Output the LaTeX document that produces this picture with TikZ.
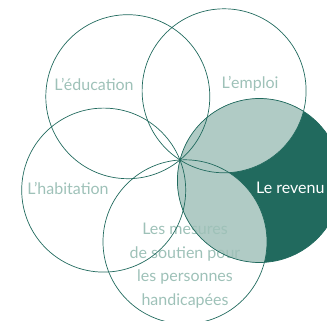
\documentclass[tikz,border=0pt]{standalone}
\usepackage{fontspec}
\setmainfont{Lato}
\definecolor{dkgreen}{RGB}{33,106,94}
\definecolor{ltgreen}{RGB}{176,203,197}
\definecolor{txtgreen}{RGB}{158,193,184}
\begin{document}
\begin{tikzpicture}[x=1pt,y=-1pt,
  ring/.style={circle,draw=dkgreen,line width=0.7pt,minimum size=164pt,inner sep=0pt},
  lbl/.style={text=txtgreen,font=\fontsize{16}{23.6}\selectfont,inner sep=0pt,align=center},
  wlbl/.style={text=white,font=\fontsize{16}{23.6}\selectfont,inner sep=0pt,anchor=west}]
\useasboundingbox (0,0) rectangle (327,321);
\clip (0,0) rectangle (327,321);
\coordinate (cEmp) at (224.1,90.8);
\coordinate (cEdu) at (127.8,96.7);
\coordinate (cHab) at (103.7,190.1);
\coordinate (cMes) at (185.0,241.8);
\coordinate (cRev) at (259.4,180.5);
% fills
\fill[dkgreen] (cRev) circle (82pt);
\begin{scope}
  \clip (cRev) circle (82pt);
  \fill[ltgreen] (cEmp) circle (82pt);
  \fill[ltgreen] (cMes) circle (82pt);
\end{scope}
% labels
\node[lbl] (tEdu) at (94,84) {L’éducation};
\node[lbl] (tEmp) at (250,84) {L’emploi};
\node[lbl] (tHab) at (68,188) {L’habitation};
\node[wlbl] (tRev) at (256,188) {Le revenu};
\node[lbl] (tMes) at (185,265.5) {Les mesures\\de soutien pour\\les personnes\\handicapées};
% circles
\node[ring] (emp) at (cEmp) {};
\node[ring] (edu) at (cEdu) {};
\node[ring] (hab) at (cHab) {};
\node[ring] (mes) at (cMes) {};
\node[ring] (rev) at (cRev) {};
\end{tikzpicture}
\end{document}
